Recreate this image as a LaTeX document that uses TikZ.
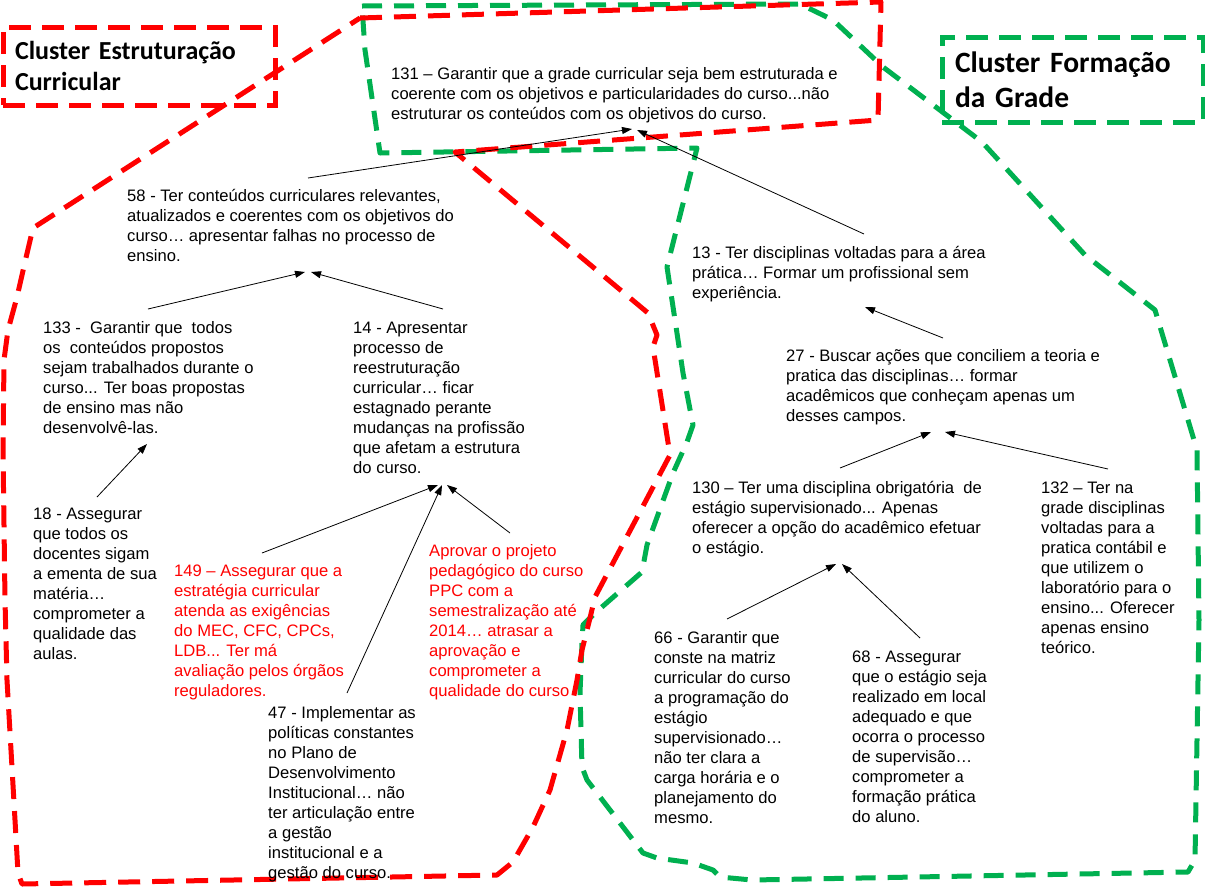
\documentclass[tikz,border=0pt]{standalone}
\usepackage{fontspec}
\setmainfont{Liberation Sans}
\newfontfamily\clusterfont{Carlito}
\usetikzlibrary{arrows.meta}

\definecolor{clred}{RGB}{255,0,0}
\definecolor{clgreen}{RGB}{0,176,80}

\begin{document}
\begin{tikzpicture}[x=1pt, y=-1pt,
  txt/.style={anchor=north west, inner sep=0pt, align=left,
    font=\fontsize{16.6}{20}\selectfont, text=black},
  redtxt/.style={txt, text=clred},
  link/.style={draw=black, line width=0.8pt, -{Triangle[length=10pt,width=7pt]}},
  redline/.style={draw=clred, line width=5pt, dash pattern=on 22pt off 12pt, line join=round},
  greenline/.style={draw=clgreen, line width=5pt, dash pattern=on 20pt off 12pt, line join=round},
  clusterbox/.style={rectangle, line width=5pt, dash pattern=on 22pt off 11pt,
    inner ysep=0pt, align=left, text=black}
]
% canvas
\fill[white] (0,0) rectangle (1205,887);
\useasboundingbox (0,0) rectangle (1205,887);

% cluster outlines
\draw[greenline] (362,6) -- (800,4) -- (833,20) -- (883,67) -- (982,142) -- (1085,255)
  -- (1155,310) -- (1197,450) -- (1199,620) -- (1195,860) -- (1188,872) -- (752,880)
  -- (720,877) -- (713,870) -- (693,863) -- (657,858) -- (643,853) -- (587,780)
  -- (582,767) -- (580,693) -- (582,643) -- (583,625) -- (595,613) -- (642,572)
  -- (647,545) -- (673,473) -- (687,442) -- (693,425) -- (683,373) -- (667,267)
  -- (697,148) -- (380,153) -- (365,50) -- cycle;

\draw[redline] (360,18) -- (881,2) -- (878,120) -- (455,152) -- (648,313) -- (657,335)
  -- (653,347) -- (670,455) -- (595,597) -- (590,618) -- (582,650) -- (577,680)
  -- (567,730) -- (550,790) -- (533,827) -- (513,862) -- (497,875) -- (22,884)
  -- (18,873) -- (15,820) -- (7,680) -- (5,600) -- (3,450) -- (4,360) -- (8,330)
  -- (17,297) -- (25,262) -- (33,228) -- cycle;

% cluster titles
\node[clusterbox, draw=clred, minimum width=272pt, minimum height=78pt, inner xsep=12pt,
  text width=248pt, font=\clusterfont\bfseries\fontsize{26}{30.5}\selectfont]
  (lblA) at (139,66) {Cluster Estruturação\\Curricular};
\node[clusterbox, draw=clgreen, minimum width=261pt, minimum height=85pt, inner xsep=13pt,
  text width=235pt, font=\clusterfont\bfseries\fontsize{29.5}{35}\selectfont]
  (lblB) at (1072.5,79.5) {Cluster Formação\\da Grade};

% statements
\node[txt] (n131) at (391,65) {\strut 131 – Garantir que a grade curricular seja bem estruturada e\\coerente com os objetivos e particularidades do curso...não\\estruturar os conteúdos com os objetivos do curso.};
\node[txt] (n58) at (127,187) {\strut 58 - Ter conteúdos curriculares relevantes,\\atualizados e coerentes com os objetivos do\\curso… apresentar falhas no processo de\\ensino.};
\node[txt] (n133) at (43,319) {\strut 133 -\ \ Garantir que\ \ todos\\os\ \ conteúdos propostos\\sejam trabalhados durante o\\curso... Ter boas propostas\\de ensino mas não\\desenvolvê-las.};
\node[txt] (n14) at (353,319) {\strut 14 - Apresentar\\processo de\\reestruturação\\curricular… ficar\\estagnado perante\\mudanças na profissão\\que afetam a estrutura\\do curso.};
\node[txt] (n18) at (33,505) {\strut 18 - Assegurar\\que todos os\\docentes sigam\\a ementa de sua\\matéria…\\comprometer a\\qualidade das\\aulas.};
\node[redtxt] (n149) at (174,562) {\strut 149 – Assegurar que a\\estratégia curricular\\atenda as exigências\\do MEC, CFC, CPCs,\\LDB... Ter má\\avaliação pelos órgãos\\reguladores.};
\node[redtxt] (nppc) at (429,542) {\strut Aprovar o projeto\\pedagógico do curso\\PPC com a\\semestralização até\\2014… atrasar a\\aprovação e\\comprometer a\\qualidade do curso};
\node[txt] (n47) at (268,704) {\strut 47 - Implementar as\\políticas constantes\\no Plano de\\Desenvolvimento\\Institucional… não\\ter articulação entre\\a gestão\\institucional e a\\gestão do curso.};
\node[txt] (n13) at (692,244) {\strut 13 - Ter disciplinas voltadas para a área\\prática… Formar um profissional sem\\experiência.};
\node[txt] (n27) at (786,347) {\strut 27 - Buscar ações que conciliem a teoria e\\pratica das disciplinas… formar\\acadêmicos que conheçam apenas um\\desses campos.};
\node[txt] (n130) at (692,479) {\strut 130 – Ter uma disciplina obrigatória\ \ de\\estágio supervisionado... Apenas\\oferecer a opção do acadêmico efetuar\\o estágio.};
\node[txt] (n132) at (1041,479) {\strut 132 – Ter na\\grade disciplinas\\voltadas para a\\pratica contábil e\\que utilizem o\\laboratório para o\\ensino... Oferecer\\apenas ensino\\teórico.};
\node[txt] (n66) at (654,629) {\strut 66 - Garantir que\\conste na matriz\\curricular do curso\\a programação do\\estágio\\supervisionado…\\não ter clara a\\carga horária e o\\planejamento do\\mesmo.};
\node[txt] (n68) at (852,648) {\strut 68 - Assegurar\\que o estágio seja\\realizado em local\\adequado e que\\ocorra o processo\\de supervisão…\\comprometer a\\formação prática\\do aluno.};

% influence links
\draw[link] ([shift={(181,-9)}]n58.north west) -- ([shift={(241,64)}]n131.north west);
\draw[link] ([shift={(172,-10)}]n13.north west) -- ([shift={(246,65)}]n131.north west);
\draw[link] ([shift={(105,-10)}]n133.north west) -- ([shift={(178,85)}]n58.north west);
\draw[link] ([shift={(90,-10)}]n14.north west) -- ([shift={(184,85)}]n58.north west);
\draw[link] ([shift={(64,-8)}]n18.north west) -- ([shift={(104,125)}]n133.north west);
\draw[link] ([shift={(88,-9)}]n149.north west) -- ([shift={(85,166)}]n14.north west);
\draw[link] ([shift={(79,-11)}]n47.north west) -- ([shift={(89,166)}]n14.north west);
\draw[link] ([shift={(81,-9)}]nppc.north west) -- ([shift={(94,166)}]n14.north west);
\draw[link] ([shift={(157,-9)}]n27.north west) -- ([shift={(173,63)}]n13.north west);
\draw[link] ([shift={(148,-11)}]n130.north west) -- ([shift={(145,85)}]n27.north west);
\draw[link] ([shift={(67,-10)}]n132.north west) -- ([shift={(159,85)}]n27.north west);
\draw[link] ([shift={(73,-10)}]n66.north west) -- ([shift={(144,85)}]n130.north west);
\draw[link] ([shift={(68,-10)}]n68.north west) -- ([shift={(150,85)}]n130.north west);
\end{tikzpicture}
\end{document}
